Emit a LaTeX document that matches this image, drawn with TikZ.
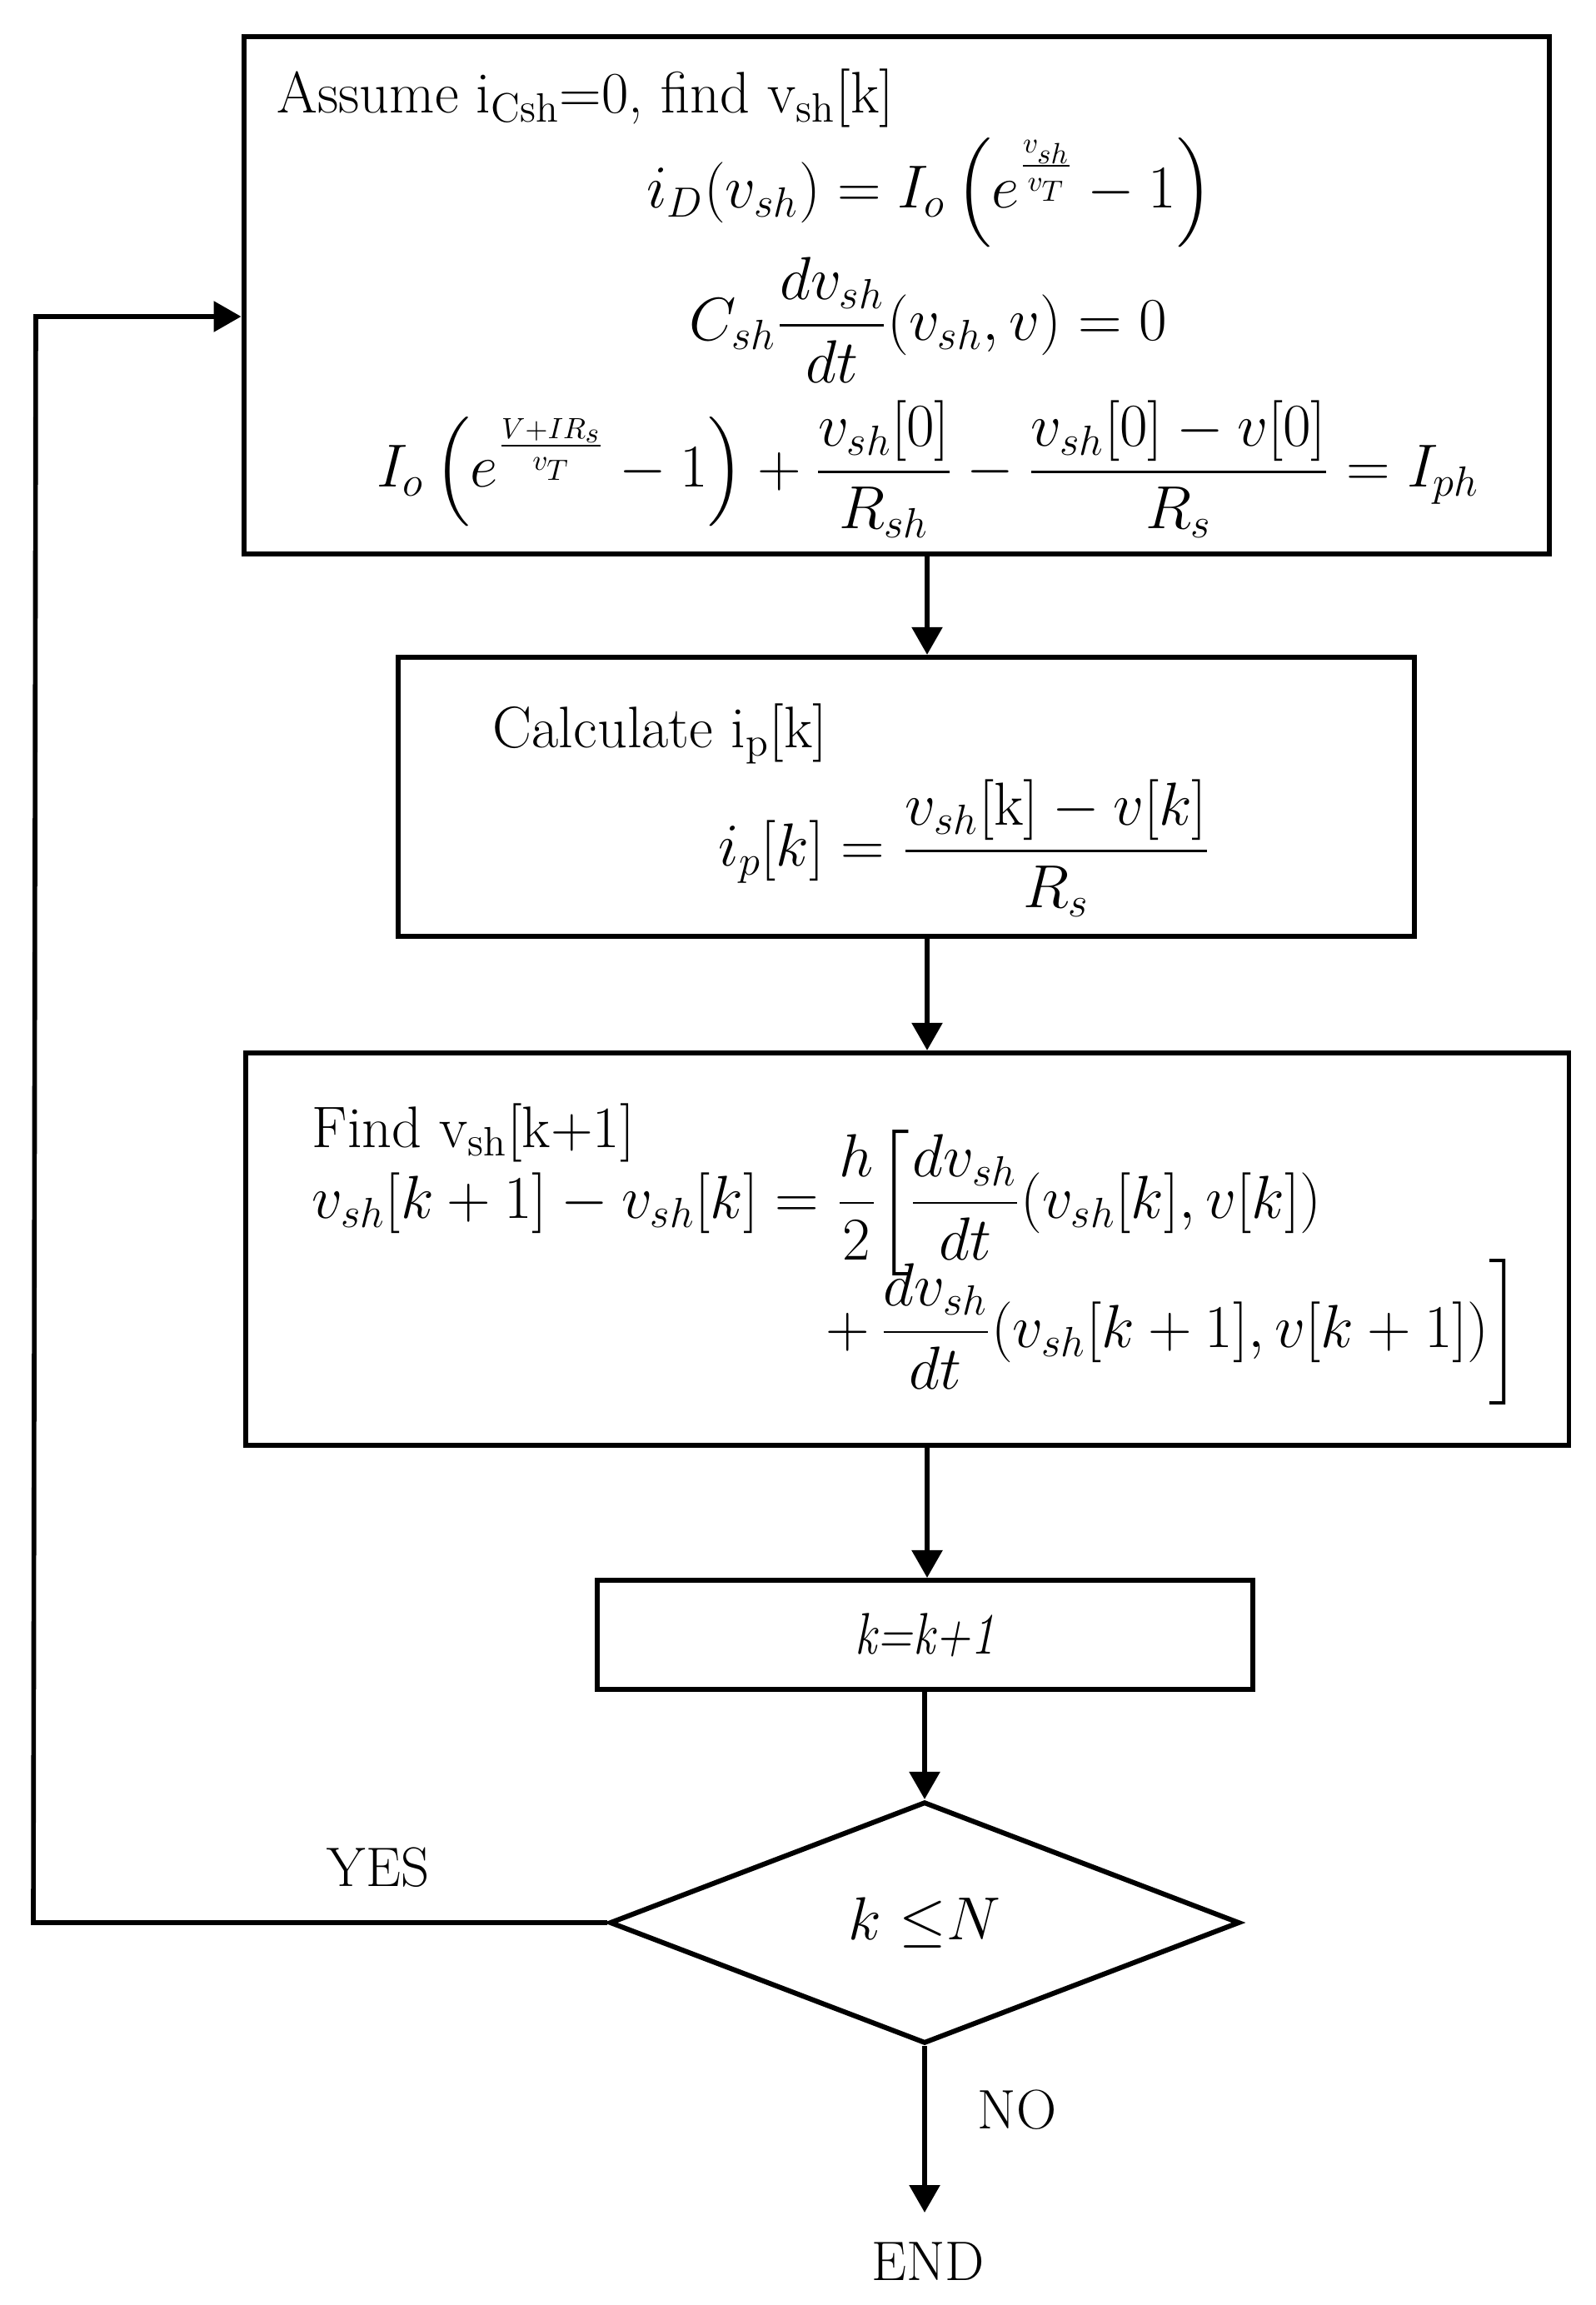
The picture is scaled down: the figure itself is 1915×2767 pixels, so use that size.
\documentclass[tikz,border=0pt]{standalone}
\usepackage{amsmath}
\usepackage{graphicx}
\usetikzlibrary{shapes.geometric,arrows.meta}
\begin{document}
\begin{tikzpicture}[x=0.01cm,y=-0.01cm,
  box/.style={draw,line width=1.7pt,inner sep=0pt},
  conn/.style={line width=1.6pt,-{Triangle[length=0.33cm,width=0.36cm]}},
  txt/.style={inner sep=0pt,font=\fontsize{20}{24}\selectfont},
  lbl/.style={inner sep=0pt,font=\fontsize{19}{23}\selectfont},
  ]
\useasboundingbox (0,0) rectangle (1915,2767);
% boxes
\node[box,minimum width=15.67cm,minimum height=6.21cm] (b1) at (1076.5,354.5) {};
\node[box,minimum width=12.20cm,minimum height=3.35cm] (b2) at (1088,956.5) {};
\node[box,minimum width=15.88cm,minimum height=4.71cm] (b3) at (1089,1499.5) {};
\node[box,minimum width=7.87cm,minimum height=1.31cm,font=\fontsize{20}{24}\selectfont] (b4) at (1110.5,1962.5) {\scalebox{0.82}[1]{\textit{k=k+1}}};
\node[box,diamond,minimum width=7.56cm,minimum height=2.90cm,font=\fontsize{20}{24}\selectfont] (d) at (1110,2308) {$k\ {\leq}N$};
% box 1 content
\node[txt,anchor=base west] (t1) at (332,136) {Assume i\textsubscript{Csh}=0, find v\textsubscript{sh}[k]};
\node[txt] (e1) at (1116,231) {$\displaystyle i_D(v_{sh})=I_o\left(e^{\frac{v_{sh}}{v_T}}-1\right)$};
\node[txt] (e2) at (1114,384) {$\displaystyle C_{sh}\frac{dv_{sh}}{dt}(v_{sh},v)=0$};
\node[txt] (e3) at (1114,563) {$\displaystyle I_o\left(e^{\frac{V+IR_s}{v_T}}-1\right)+\frac{v_{sh}[0]}{R_{sh}}-\frac{v_{sh}[0]-v[0]}{R_s}=I_{ph}$};
% box 2 content
\node[txt,anchor=base west] (t2) at (591,897) {Calculate i\textsubscript{p}[k]};
\node[txt] (e4) at (1158,1018) {$\displaystyle i_p[k]=\frac{v_{sh}[\mathrm{k}]-v[k]}{R_s}$};
% box 3 content
\node[txt,anchor=base west] (t3) at (374,1377) {Find v\textsubscript{sh}[k+1]};
\node[txt,anchor=west] (e5) at (374,1444) {$\displaystyle v_{sh}[k+1]-v_{sh}[k]=\frac{h}{2}\biggl[\frac{dv_{sh}}{dt}(v_{sh}[k],v[k])$};
\node[txt,anchor=east] (e6) at (1827,1599) {$\displaystyle +\,\frac{dv_{sh}}{dt}(v_{sh}[k+1],v[k+1])\biggr]$};
% labels
\node[lbl] (yes) at (454,2242) {YES};
\node[lbl] (no) at (1221,2533) {NO};
\node[lbl] (end) at (1114,2715) {END};
% connectors
\coordinate (ax) at (1113,0);
\coordinate (endtip) at (1110,2656);
\coordinate (lb) at (40,2308);
\coordinate (lt) at (43,380);
\draw[conn] (b1.south -| ax) -- (b2.north -| ax);
\draw[conn] (b2.south -| ax) -- (b3.north -| ax);
\draw[conn] (b3.south -| ax) -- (b4.north -| ax);
\draw[conn] (b4.south -| d.north) -- (d.north);
\draw[conn] (d.south) -- (endtip);
\draw[conn,line join=miter] (d.west) -- (lb) -- (lt) -- (lt -| b1.west);
\end{tikzpicture}
\end{document}
